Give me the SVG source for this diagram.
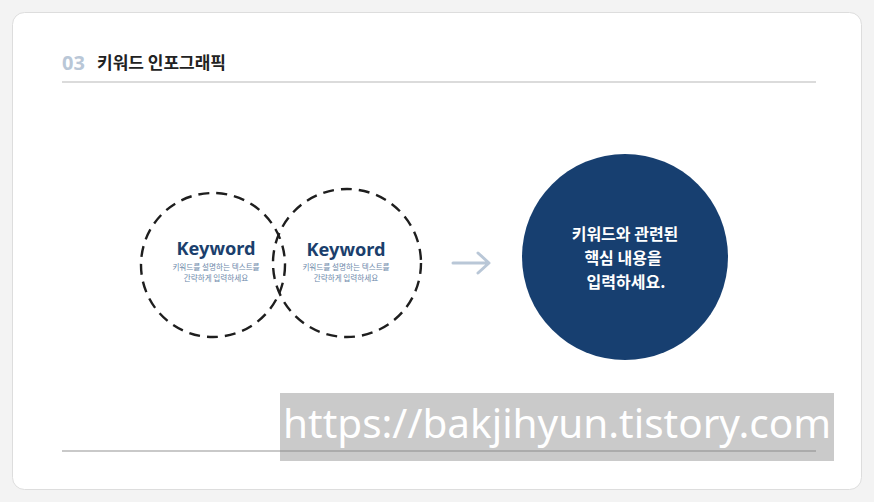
<svg xmlns="http://www.w3.org/2000/svg" width="874" height="502" viewBox="0 0 874 502">
<style>
.kr{font-family:"Noto Sans CJK KR","Noto Sans",sans-serif}
.kw{font-family:"Noto Sans","Open Sans",sans-serif;font-weight:700;font-size:18px;fill:#1b3f6d;text-anchor:middle}
.desc{font-family:"Noto Sans CJK KR",sans-serif;font-size:7.6px;fill:#6d88aa;text-anchor:middle}
.dash{fill:none;stroke:#1e1e1e;stroke-width:2.4;stroke-dasharray:11 7}
.rule{stroke:#cfcfcf;stroke-width:1.5}
</style>
<rect width="874" height="502" fill="#f3f3f3"/>
<rect x="12.5" y="12.5" width="849" height="477" rx="12" fill="#ffffff" stroke="#dddddd"/>
<g id="header">
<text x="62" y="70" font-family="Noto Sans,sans-serif" font-weight="700" font-size="20" fill="#b9c7d7">03</text>
<text x="97" y="69" class="kr" font-weight="700" font-size="17" fill="#222">키워드 인포그래픽</text>
<line class="rule" x1="62" y1="82" x2="816" y2="82"/>
</g>
<g id="keyword1">
<circle class="dash" cx="213" cy="265" r="72"/>
<text class="kw" x="216" y="255" textLength="79" lengthAdjust="spacingAndGlyphs">Keyword</text>
<text class="desc" x="216" y="270">키워드를 설명하는 텍스트를</text>
<text class="desc" x="216" y="281">간략하게 입력하세요</text>
</g>
<g id="keyword2">
<circle class="dash" cx="347" cy="263" r="74"/>
<text class="kw" x="346" y="256" textLength="79" lengthAdjust="spacingAndGlyphs">Keyword</text>
<text class="desc" x="346" y="270">키워드를 설명하는 텍스트를</text>
<text class="desc" x="346" y="281">간략하게 입력하세요</text>
</g>
<g id="connectors">
<path d="M453 263 H488 M478 253 L489 263 L478 273" fill="none" stroke="#b9c7d7" stroke-width="3" stroke-linecap="round" stroke-linejoin="round"/>
</g>
<g id="result">
<circle cx="625" cy="257" r="103" fill="#173f70"/>
<g class="kr" font-weight="700" font-size="16" fill="#ffffff" text-anchor="middle">
<text x="625" y="240">키워드와 관련된</text>
<text x="623" y="264">핵심 내용을</text>
<text x="626" y="288">입력하세요.</text>
</g>
</g>
<rect x="280" y="393" width="554" height="68" fill="#cacaca"/>
<line x1="62" y1="451" x2="816" y2="451" stroke="#a0a0a0" stroke-width="1.5"/>
<line class="rule" x1="62" y1="451" x2="280" y2="451"/>
<text x="283" y="438" font-family="Noto Sans,sans-serif" font-size="40" fill="#ffffff" textLength="548" lengthAdjust="spacingAndGlyphs">https://bakjihyun.tistory.com</text>
</svg>
